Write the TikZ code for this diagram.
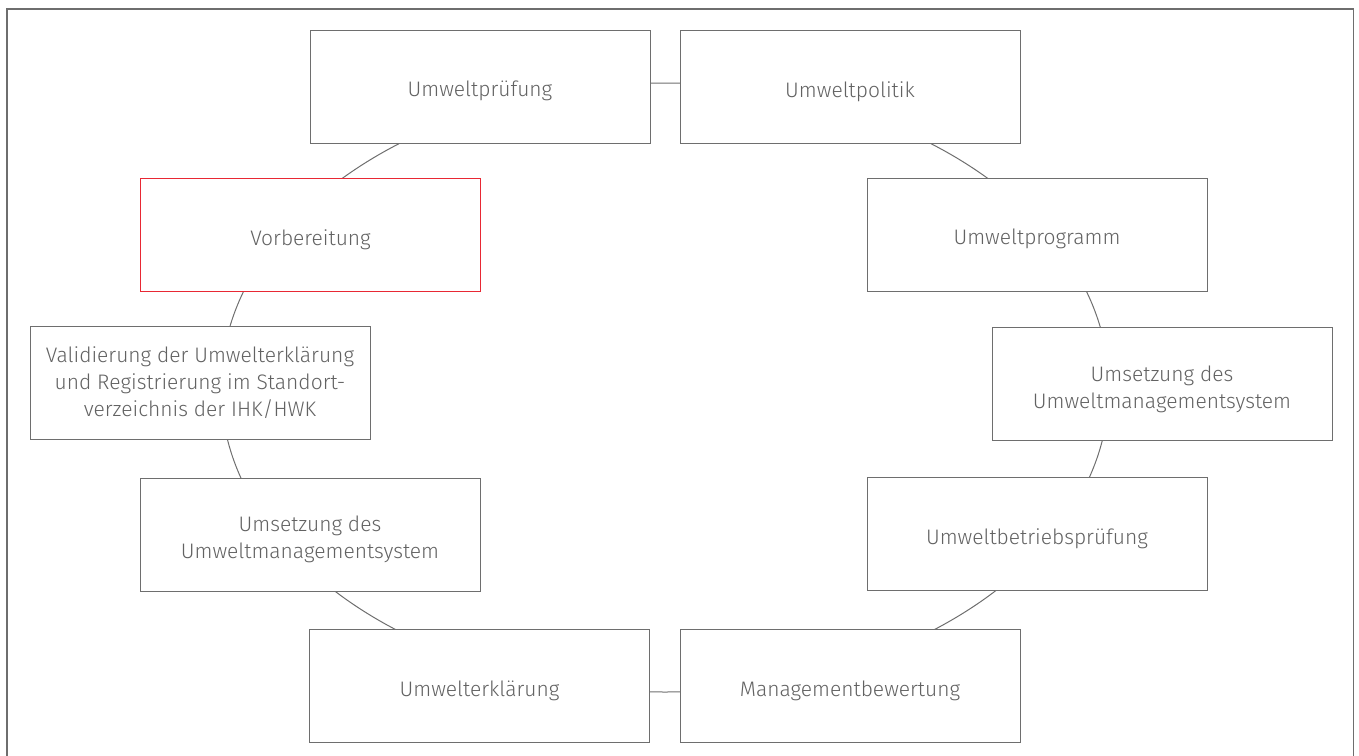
\documentclass[tikz,border=0pt]{standalone}
\usepackage{fontspec}
\setmainfont{Fira Sans}[UprightFont=* Light]
\definecolor{boxline}{HTML}{6E6E6E}
\definecolor{txt}{HTML}{626262}
\definecolor{redline}{RGB}{232,40,52}
\begin{document}
\begin{tikzpicture}[x=1pt,y=-1pt,
  stepbox/.style={draw=boxline,line width=1pt,fill=white,minimum width=340pt,minimum height=113pt,
    inner sep=0pt,align=center,text=txt,font=\fontsize{21}{27}\selectfont},
  oneline/.style={stepbox,text height=20pt,text depth=0pt},
  twoline/.style={stepbox,text height=48pt,text depth=0pt},
  redbox/.style={oneline,draw=redline}]
\useasboundingbox (0,0) rectangle (1359,755);
% frame
\draw[boxline,line width=1.2pt] (7,760) -- (7,9) -- (1353.5,9) -- (1353.5,760);
% ring
\coordinate (c) at (665,387.5);
\draw[boxline,line width=1pt] (c) ellipse [x radius=444pt, y radius=304.5pt];
% boxes
\node[oneline] (pruef) at (480,86.5) {Umweltprüfung};
\node[oneline] (politik) at (850,87) {Umweltpolitik};
\node[oneline] (programm) at (1037,234.5) {Umweltprogramm};
\node[redbox] (vorb) at (310.5,235) {Vorbereitung};
\node[stepbox] (valid) at (200,383) {Validierung der Umwelterklärung\\und Registrierung im Standort-\\verzeichnis der IHK/HWK};
\node[twoline] (umsR) at (1162,384) {Umsetzung des\\Umweltmanagementsystem};
\node[twoline] (umsL) at (310,534.5) {Umsetzung des\\Umweltmanagementsystem};
\node[oneline] (betrieb) at (1037,534) {Umweltbetriebsprüfung};
\node[oneline] (erkl) at (479.5,686) {Umwelterklärung};
\node[oneline] (mgmt) at (850,686) {Managementbewertung};
\end{tikzpicture}
\end{document}
